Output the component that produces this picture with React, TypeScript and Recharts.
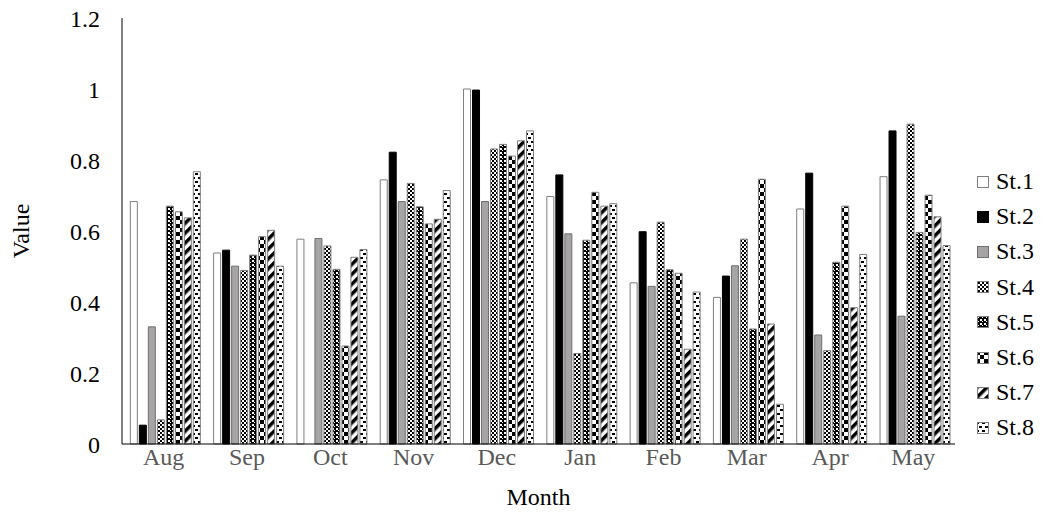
import React from 'react'
import { BarChart, Bar, XAxis, YAxis } from 'recharts'

const months = ['Aug', 'Sep', 'Oct', 'Nov', 'Dec', 'Jan', 'Feb', 'Mar', 'Apr', 'May']
const st1 = [0.683, 0.538, 0.577, 0.744, 1.0, 0.697, 0.454, 0.413, 0.662, 0.753]
const st2 = [0.053, 0.546, 0, 0.822, 0.997, 0.758, 0.598, 0.473, 0.763, 0.882]
const st3 = [0.33, 0.501, 0.579, 0.683, 0.683, 0.592, 0.444, 0.502, 0.307, 0.36]
const st4 = [0.068, 0.489, 0.558, 0.734, 0.831, 0.255, 0.625, 0.577, 0.263, 0.901]
const st5 = [0.67, 0.532, 0.492, 0.668, 0.844, 0.574, 0.491, 0.324, 0.512, 0.596]
const st6 = [0.654, 0.584, 0.276, 0.62, 0.811, 0.709, 0.481, 0.746, 0.67, 0.701]
const st7 = [0.637, 0.602, 0.526, 0.633, 0.854, 0.67, 0.267, 0.338, 0.384, 0.64]
const st8 = [0.767, 0.501, 0.548, 0.714, 0.882, 0.677, 0.428, 0.112, 0.534, 0.559]
const yTicks = [0, 0.2, 0.4, 0.6, 0.8, 1, 1.2]

const stations = [
  { key: 'St.1', values: st1, fill: '#ffffff', stroke: '#7f7f7f' },
  { key: 'St.2', values: st2, fill: '#000000', stroke: '#000000' },
  { key: 'St.3', values: st3, fill: '#a6a4a4', stroke: '#6f6f6f' },
  { key: 'St.4', values: st4, fill: 'url(#p4)', stroke: '#7f7f7f' },
  { key: 'St.5', values: st5, fill: 'url(#p5)', stroke: '#7f7f7f' },
  { key: 'St.6', values: st6, fill: 'url(#p6)', stroke: '#7f7f7f' },
  { key: 'St.7', values: st7, fill: 'url(#p7)', stroke: '#7f7f7f' },
  { key: 'St.8', values: st8, fill: 'url(#p8)', stroke: '#7f7f7f' },
]

const data = months.map((month, i) => {
  const row: Record<string, any> = { month }
  stations.forEach((s) => { row[s.key] = s.values[i] })
  return row
})

const font = 'Liberation Serif'

function Patterns() {
  return (
    <svg width={0} height={0} style={{ position: 'absolute' }}>
      <defs>
        <pattern id="p4" width={4} height={4} patternUnits="userSpaceOnUse">
          <rect width={4} height={4} fill="#fff" />
          <rect x={0} y={0} width={2} height={2} fill="#000" />
          <rect x={2} y={2} width={2} height={2} fill="#000" />
        </pattern>
        <pattern id="p5" width={4} height={4} patternUnits="userSpaceOnUse">
          <rect width={4} height={4} fill="#000" />
          <rect x={0} y={0} width={2} height={2} fill="#fff" />
          <rect x={2} y={2} width={1} height={1} fill="#fff" />
        </pattern>
        <pattern id="p6" width={8} height={8} patternUnits="userSpaceOnUse">
          <rect width={8} height={8} fill="#fff" />
          <rect x={0} y={0} width={4} height={4} fill="#000" />
          <rect x={4} y={4} width={4} height={4} fill="#000" />
        </pattern>
        <pattern id="p7" width={7} height={7} patternUnits="userSpaceOnUse" patternTransform="rotate(45)">
          <rect width={7} height={7} fill="#fff" />
          <rect x={0} y={0} width={3.5} height={7} fill="#000" />
        </pattern>
        <pattern id="p8" width={6} height={8} patternUnits="userSpaceOnUse">
          <rect width={6} height={8} fill="#fff" />
          <rect x={0} y={1} width={3} height={2} fill="#000" />
          <rect x={3} y={5} width={3} height={2} fill="#000" />
        </pattern>
      </defs>
    </svg>
  )
}

function StationLegend() {
  return (
    <div style={{ position: 'absolute', left: 976, top: 164, fontFamily: font, fontSize: 24, color: '#000' }}>
      {stations.map((s) => (
        <div key={s.key} style={{ height: 35.2, display: 'flex', alignItems: 'center' }}>
          <svg width={14} height={14} style={{ marginRight: 6 }}>
            <rect x={1.5} y={1.5} width={11} height={11} fill={s.fill} stroke={s.stroke} strokeWidth={1} />
          </svg>
          <span style={{ fontFamily: font }}>{s.key}</span>
        </div>
      ))}
    </div>
  )
}

export default function App() {
  return (
    <div style={{ position: 'absolute', left: 0, top: 0, width: 1047, height: 513, background: '#fff', fontFamily: font }}>
      <Patterns />
      <BarChart
        width={1047}
        height={513}
        data={data}
        margin={{ top: 18, right: 92, left: 0, bottom: 0 }}
        barCategoryGap="10%"
        barGap={2}
        style={{ fontFamily: font }}
      >
        <XAxis
          dataKey="month"
          height={69}
          axisLine={{ stroke: '#000' }}
          tickLine={false}
          tickSize={4}
          tickMargin={0}
          tick={{ fill: '#595959', fontSize: 24, fontFamily: font }}
          label={{ value: 'Month', position: 'insideBottom', offset: 8, fill: '#000', fontSize: 24, fontFamily: font }}
        />
        <XAxis xAxisId="top" dataKey="month" orientation="top" height={0} tick={false} tickLine={false} axisLine={{ stroke: '#404040' }} />
        <YAxis
          width={122}
          domain={[0, 1.2]}
          ticks={yTicks}
          axisLine={{ stroke: '#000' }}
          tickLine={false}
          tickSize={6}
          tickMargin={16}
          tick={{ fill: '#000', fontSize: 24, fontFamily: font }}
          label={{ value: 'Value', angle: -90, position: 'insideLeft', offset: 20, fill: '#000', fontSize: 24, fontFamily: font, style: { textAnchor: 'middle' } }}
        />
        <YAxis yAxisId="r" orientation="right" width={0} domain={[0, 1.2]} tick={false} tickLine={false} axisLine={{ stroke: '#595959' }} />
        {stations.map((s) => (
          <Bar key={s.key} dataKey={s.key} fill={s.fill} stroke={s.stroke} strokeWidth={1} isAnimationActive={false} />
        ))}
      </BarChart>
      <StationLegend />
    </div>
  )
}
